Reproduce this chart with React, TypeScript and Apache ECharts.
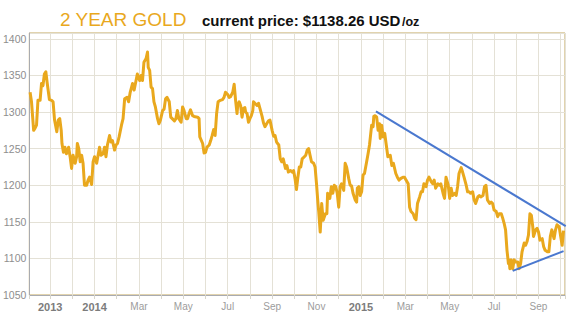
import React, { useEffect, useRef } from "react";
import * as echarts from "echarts";

// Day offsets are counted from 2013-10-01; x axis unit = months since Oct 2013.
const ORIGIN_YEAR = 2013;
const ORIGIN_MONTH = 9; // October (0-based)
const X_START_DAY = 2;
const X_END_DAY = 736;

const TITLE_MAIN = "2 YEAR GOLD";
const TITLE_PRICE = "current price: $1138.26 USD";
const TITLE_UNIT = "/oz";

// [day offset, USD/oz]
const goldPrices: [number, number][] = [
  [3, 1327], [5, 1314], [8, 1275], [10, 1278], [12, 1282], [14, 1316], [17, 1316], [19, 1339],
  [21, 1336], [23, 1352], [25, 1355], [27, 1339], [30, 1317], [33, 1316], [35, 1314], [37, 1289],
  [40, 1273], [42, 1289], [44, 1291], [46, 1275], [47, 1257], [49, 1245], [51, 1252], [53, 1243],
  [56, 1252], [58, 1239], [60, 1223], [62, 1241], [65, 1230], [67, 1239], [68, 1257], [70, 1250],
  [72, 1232], [74, 1241], [76, 1230], [78, 1200], [81, 1200], [83, 1207], [85, 1211], [88, 1201],
  [90, 1232], [92, 1239], [95, 1230], [97, 1241], [99, 1252], [101, 1241], [104, 1243], [106, 1252],
  [108, 1239], [110, 1255], [113, 1268], [115, 1259], [117, 1261], [120, 1248], [122, 1255], [124, 1257],
  [126, 1266], [129, 1282], [131, 1291], [133, 1318], [136, 1320], [138, 1314], [140, 1327], [143, 1339],
  [145, 1330], [147, 1341], [149, 1352], [152, 1343], [154, 1350], [156, 1343], [158, 1368], [161, 1373],
  [163, 1382], [164, 1361], [166, 1357], [168, 1334], [170, 1332], [172, 1314], [174, 1307], [177, 1291],
  [179, 1284], [181, 1289], [184, 1302], [186, 1304], [188, 1318], [190, 1320], [193, 1314], [195, 1293],
  [197, 1291], [200, 1288], [202, 1291], [204, 1302], [206, 1291], [209, 1286], [211, 1307], [213, 1302],
  [216, 1291], [218, 1291], [220, 1298], [222, 1303], [225, 1295], [227, 1294], [232, 1293], [234, 1291],
  [235, 1266], [239, 1257], [241, 1244], [243, 1245], [245, 1252], [248, 1255], [250, 1261], [252, 1268],
  [254, 1276], [256, 1268], [258, 1298], [260, 1314], [263, 1316], [266, 1317], [268, 1320], [270, 1327],
  [273, 1324], [275, 1320], [277, 1321], [280, 1327], [282, 1338], [284, 1316], [286, 1298], [287, 1309],
  [289, 1314], [291, 1309], [293, 1293], [295, 1305], [297, 1306], [298, 1300], [300, 1298], [302, 1286],
  [304, 1291], [306, 1295], [308, 1302], [309, 1314], [312, 1311], [314, 1309], [316, 1312], [318, 1305],
  [321, 1294], [323, 1285], [325, 1280], [328, 1285], [330, 1288], [332, 1289], [335, 1275], [337, 1267],
  [339, 1268], [341, 1259], [344, 1255], [346, 1236], [348, 1232], [350, 1236], [353, 1223], [355, 1227],
  [357, 1218], [360, 1220], [362, 1218], [364, 1220], [366, 1209], [368, 1194], [370, 1211], [372, 1225],
  [374, 1225], [376, 1236], [379, 1239], [381, 1241], [383, 1248], [385, 1250], [387, 1241], [389, 1232],
  [392, 1230], [394, 1225], [396, 1202], [398, 1175], [399, 1164], [401, 1136], [403, 1175], [405, 1152],
  [408, 1161], [410, 1161], [411, 1189], [414, 1182], [416, 1198], [418, 1189], [420, 1200], [422, 1198],
  [424, 1189], [426, 1170], [428, 1198], [430, 1202], [431, 1200], [433, 1193], [435, 1230], [437, 1225],
  [440, 1209], [442, 1200], [444, 1199], [446, 1189], [449, 1180], [451, 1177], [452, 1196], [454, 1198],
  [456, 1186], [458, 1191], [460, 1214], [462, 1216], [465, 1232], [467, 1243], [469, 1255], [472, 1282],
  [474, 1280], [475, 1294], [477, 1295], [479, 1293], [481, 1275], [483, 1284], [484, 1264], [486, 1282],
  [488, 1266], [490, 1271], [492, 1255], [494, 1239], [497, 1241], [499, 1227], [501, 1230], [504, 1216],
  [506, 1211], [508, 1207], [510, 1209], [513, 1211], [515, 1211], [517, 1207], [520, 1202], [522, 1170],
  [524, 1164], [527, 1161], [529, 1155], [531, 1153], [533, 1175], [536, 1184], [538, 1191], [540, 1191],
  [542, 1202], [545, 1198], [547, 1207], [549, 1211], [552, 1205], [554, 1202], [556, 1207], [558, 1196],
  [561, 1202], [563, 1200], [565, 1202], [568, 1189], [570, 1182], [572, 1211], [575, 1200], [577, 1182],
  [579, 1196], [581, 1186], [584, 1189], [586, 1186], [588, 1198], [590, 1216], [593, 1224], [595, 1218],
  [597, 1211], [600, 1200], [602, 1191], [604, 1191], [606, 1189], [609, 1191], [611, 1180], [613, 1175],
  [616, 1184], [618, 1186], [620, 1184], [623, 1186], [625, 1198], [627, 1200], [629, 1180], [632, 1175],
  [634, 1177], [636, 1175], [638, 1166], [641, 1164], [643, 1157], [645, 1161], [648, 1161], [650, 1155],
  [652, 1148], [654, 1139], [656, 1111], [658, 1093], [659, 1098], [660, 1086], [662, 1098], [664, 1086],
  [666, 1098], [668, 1095], [671, 1095], [673, 1086], [675, 1093], [677, 1109], [680, 1121], [682, 1118],
  [684, 1123], [686, 1132], [688, 1161], [690, 1159], [692, 1143], [693, 1130], [696, 1139], [698, 1141],
  [700, 1136], [702, 1125], [705, 1127], [707, 1116], [709, 1111], [712, 1109], [714, 1109], [716, 1130],
  [718, 1139], [721, 1127], [723, 1139], [725, 1146], [728, 1143], [730, 1130], [732, 1118], [734, 1138],
];

const upperTrend: [number, number][] = [[478, 1301], [737, 1144]];
const lowerTrend: [number, number][] = [[664, 1083], [734, 1110]];

const tickDates = ["2013-11", "2014-01", "2014-03", "2014-05", "2014-07", "2014-09", "2014-11", "2015-01", "2015-03", "2015-05", "2015-07", "2015-09"];
const tickLabels = ["2013", "2014", "Mar", "May", "Jul", "Sep", "Nov", "2015", "Mar", "May", "Jul", "Sep"];

const Y_MIN = 1050;
const Y_MAX = 1408;
const Y_STEP = 50;

function dayToMonthPos(day: number): number {
  const t = Date.UTC(ORIGIN_YEAR, ORIGIN_MONTH, 1) + day * 86400000;
  const dt = new Date(t);
  const y = dt.getUTCFullYear();
  const m = dt.getUTCMonth();
  const d = dt.getUTCDate();
  const dim = new Date(Date.UTC(y, m + 1, 0)).getUTCDate();
  return (y - ORIGIN_YEAR) * 12 + (m - ORIGIN_MONTH) + (d - 1) / dim;
}

function ymToMonthPos(s: string): number {
  const [y, m] = s.split("-").map(Number);
  return (y - ORIGIN_YEAR) * 12 + (m - 1 - ORIGIN_MONTH);
}

const FONT = "'Liberation Sans', Arial, Helvetica, sans-serif";
const GOLD = "#E9A81D";
const BLUE = "#4A78CF";

export default function App() {
  const ref = useRef<HTMLDivElement>(null);
  useEffect(() => {
    if (!ref.current) return;
    const chart = echarts.init(ref.current, null, { renderer: "svg" });
    const tickMap = new Map<number, string>();
    tickDates.forEach((d, i) => tickMap.set(ymToMonthPos(d), tickLabels[i]));

    chart.setOption({
      animation: false,
      backgroundColor: "#ffffff",
      grid: {
        left: 29,
        right: 4,
        top: 33,
        bottom: 31,
        show: true,
        borderColor: "#C2A65C",
        borderWidth: 1,
        backgroundColor: "transparent",
        containLabel: false,
      },
      graphic: [
        {
          type: "text",
          x: 60,
          y: 19,
          style: { text: TITLE_MAIN, font: `19px ${FONT}`, fill: GOLD, verticalAlign: "middle", align: "left" },
        },
        {
          type: "text",
          x: 202,
          y: 20.5,
          style: { text: TITLE_PRICE, font: `bold 15px ${FONT}`, fill: "#111111", verticalAlign: "middle", align: "left" },
        },
        {
          type: "text",
          x: 402,
          y: 21.5,
          style: { text: TITLE_UNIT, font: `bold 12.5px ${FONT}`, fill: "#111111", verticalAlign: "middle", align: "left" },
        },
      ],
      xAxis: {
        type: "value",
        min: dayToMonthPos(X_START_DAY),
        max: dayToMonthPos(X_END_DAY),
        minInterval: 1,
        maxInterval: 1,
        splitNumber: 24,
        axisLine: { show: true, lineStyle: { color: "#A9ABB0", width: 1 } },
        axisTick: { show: true, length: 4, lineStyle: { color: "#D8D6CC" } },
        splitLine: { show: true, lineStyle: { color: "#E4E1D6", width: 1 } },
        axisLabel: {
          margin: 6,
          formatter: (v: number) => {
            const r = Math.round(v);
            if (Math.abs(v - r) > 1e-6) return "";
            const lab = tickMap.get(r);
            if (!lab) return "";
            return /^\d{4}$/.test(lab) ? `{y|${lab}}` : `{m|${lab}}`;
          },
          rich: {
            y: { fontFamily: FONT, fontSize: 11, fontWeight: "bold", color: "#7C7C7C" },
            m: { fontFamily: FONT, fontSize: 10, color: "#9C9C9C" },
          },
        },
      },
      yAxis: {
        type: "value",
        min: Y_MIN,
        max: Y_MAX,
        interval: Y_STEP,
        axisLine: { show: true, lineStyle: { color: "#A9ABB0", width: 1 } },
        axisTick: { show: false },
        splitLine: { show: true, lineStyle: { color: "#E4E1D6", width: 1 } },
        axisLabel: {
          margin: 3,
          color: "#8E8E8E",
          fontFamily: FONT,
          fontSize: 10.5,
          formatter: (v: number) => (Math.abs(v % Y_STEP) < 1e-6 ? String(v) : ""),
        },
      },
      series: [
        {
          type: "line",
          data: goldPrices.map(([d, p]) => [dayToMonthPos(d), p]),
          showSymbol: false,
          symbol: "none",
          lineStyle: { color: GOLD, width: 3, join: "round" },
          z: 2,
        },
        {
          type: "line",
          data: upperTrend.map(([d, p]) => [dayToMonthPos(d), p]),
          showSymbol: false,
          symbol: "none",
          lineStyle: { color: BLUE, width: 2 },
          z: 3,
        },
        {
          type: "line",
          data: lowerTrend.map(([d, p]) => [dayToMonthPos(d), p]),
          showSymbol: false,
          symbol: "none",
          lineStyle: { color: BLUE, width: 2 },
          z: 3,
        },
      ],
    });
    return () => chart.dispose();
  }, []);

  return (
    <div
      ref={ref}
      style={{ position: "fixed", left: 0, top: 0, width: 569, height: 326, background: "#fff" }}
    />
  );
}
